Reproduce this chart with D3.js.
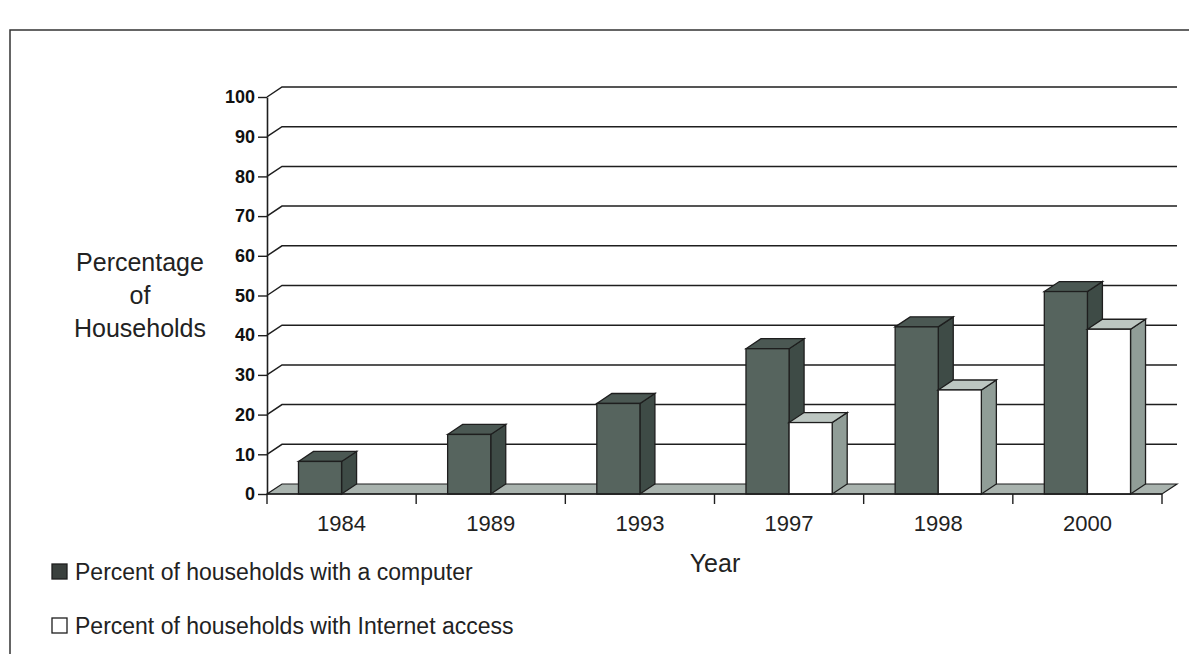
<!DOCTYPE html>
<html>
<head>
<meta charset="utf-8">
<script src="https://cdn.jsdelivr.net/npm/d3@7"></script>
<style>
  html, body { margin: 0; padding: 0; background: #fff; }
  svg { display: block; font-family: Arial, "Liberation Sans", sans-serif; }
</style>
</head>
<body>
<svg id="chart" width="1189" height="654"></svg>
<script>
// values (census home computer / internet use)
const years = ['1984', '1989', '1993', '1997', '1998', '2000'];
const computerPct = [8.2, 15.0, 22.8, 36.6, 42.1, 51.0];
const internetPct = [0, 0, 0, 18.0, 26.2, 41.5];
const yTicks = [0, 10, 20, 30, 40, 50, 60, 70, 80, 90, 100];
const seriesKeys = ['computer', 'internet'];
const legendLabels = ['Percent of households with a computer', 'Percent of households with Internet access'];
const yLabelLines = ['Percentage', 'of', 'Households'];
const xTitle = 'Year';

const width = 1189, height = 654;
const plotLeft = 267, plotRight = 1162, plotTop = 97, plotBottom = 494;
const depthX = 15, depthY = -10; // 3D depth offset of the wall / floor

const svg = d3.select('#chart');
const ink = '#1e1e1e';

// outer frame (only top and left edges are visible in the scan)
svg.append('path')
  .attr('d', `M10,${height} L10,30 L${width},30`)
  .attr('fill', 'none')
  .attr('stroke', '#333')
  .attr('stroke-width', 1.5);

const x = d3.scaleBand()
  .domain(years)
  .range([plotLeft, plotRight]);

const xs = d3.scaleBand()
  .domain(seriesKeys)
  .range([0, x.bandwidth()])
  .paddingOuter(0.73);

const y = d3.scaleLinear()
  .domain([0, 100])
  .range([plotBottom, plotTop]);

// back wall gridlines, with the diagonal from the front axis
svg.append('g')
  .selectAll('path')
  .data(yTicks.filter(d => d > 0))
  .join('path')
    .attr('d', d => `M${plotLeft},${y(d)} L${plotLeft + depthX},${y(d) + depthY} L${plotRight + depthX},${y(d) + depthY}`)
    .attr('fill', 'none')
    .attr('stroke', ink)
    .attr('stroke-width', 1.5);

// floor
svg.append('path')
  .attr('d', `M${plotLeft},${y(0)} L${plotRight},${y(0)} L${plotRight + depthX},${y(0) + depthY} L${plotLeft + depthX},${y(0) + depthY} Z`)
  .attr('fill', '#a9b3ae')
  .attr('stroke', ink)
  .attr('stroke-width', 1.2);

// bars
const faces = {
  computer: { front: '#56645e', top: '#4b5853', side: '#3e4b46' },
  internet: { front: '#ffffff', top: '#bcc6c1', side: '#909d97' }
};

const barData = [];
years.forEach((yr, i) => {
  barData.push({ year: yr, key: 'computer', value: computerPct[i] });
  barData.push({ year: yr, key: 'internet', value: internetPct[i] });
});

const bars = svg.append('g')
  .selectAll('g')
  .data(barData.filter(d => d.value > 0))
  .join('g');

bars.each(function (d) {
  const g = d3.select(this);
  const x0 = x(d.year) + xs(d.key);
  const x1 = x0 + xs.bandwidth();
  const yt = y(d.value), yb = y(0);
  const c = faces[d.key];
  g.append('path')
    .attr('d', `M${x1},${yb} L${x1 + depthX},${yb + depthY} L${x1 + depthX},${yt + depthY} L${x1},${yt} Z`)
    .attr('fill', c.side).attr('stroke', ink).attr('stroke-width', 1.3);
  g.append('path')
    .attr('d', `M${x0},${yt} L${x0 + depthX},${yt + depthY} L${x1 + depthX},${yt + depthY} L${x1},${yt} Z`)
    .attr('fill', c.top).attr('stroke', ink).attr('stroke-width', 1.3);
  g.append('rect')
    .attr('x', x0).attr('y', yt)
    .attr('width', xs.bandwidth()).attr('height', yb - yt)
    .attr('fill', c.front).attr('stroke', ink).attr('stroke-width', 1.3);
});

// y axis
svg.append('g')
  .attr('transform', `translate(${plotLeft},0)`)
  .call(d3.axisLeft(y).tickValues(yTicks).tickSize(9).tickSizeOuter(0).tickPadding(3))
  .call(g => g.select('.domain').attr('stroke', ink).attr('stroke-width', 1.6))
  .call(g => g.selectAll('.tick line').attr('stroke', ink).attr('stroke-width', 1.4))
  .call(g => g.selectAll('.tick text')
    .attr('fill', '#111')
    .attr('font-size', 18)
    .attr('font-weight', 'bold')
    .attr('font-family', 'Arial, "Liberation Sans", sans-serif'));

// x axis: ticks sit on category boundaries
svg.append('g')
  .attr('transform', `translate(0,${y(0)})`)
  .call(d3.axisBottom(x).tickSize(0).tickPadding(21))
  .call(g => g.select('.domain').remove())
  .call(g => g.selectAll('.tick text')
    .attr('fill', '#222')
    .attr('font-size', 22)
    .attr('font-family', 'Arial, "Liberation Sans", sans-serif'));

svg.append('line')
  .attr('x1', plotLeft).attr('x2', plotRight)
  .attr('y1', y(0)).attr('y2', y(0))
  .attr('stroke', ink).attr('stroke-width', 1.6);

svg.append('g')
  .selectAll('line')
  .data(years.map(d => x(d)).concat([plotRight]))
  .join('line')
    .attr('x1', d => d).attr('x2', d => d)
    .attr('y1', y(0)).attr('y2', y(0) + 10)
    .attr('stroke', ink).attr('stroke-width', 1.4);

// axis titles
svg.append('text')
  .attr('x', 140)
  .attr('text-anchor', 'middle')
  .attr('font-size', 25)
  .attr('fill', '#222')
  .selectAll('tspan')
  .data(yLabelLines)
  .join('tspan')
    .attr('x', 140)
    .attr('y', (d, i) => 271 + i * 33)
    .text(d => d);

svg.append('text')
  .attr('x', 715)
  .attr('y', 572)
  .attr('text-anchor', 'middle')
  .attr('font-size', 25)
  .attr('fill', '#222')
  .text(xTitle);

// legend
const legend = svg.append('g')
  .selectAll('g')
  .data(seriesKeys)
  .join('g')
    .attr('transform', (d, i) => `translate(52,${564 + i * 54})`);

legend.append('rect')
  .attr('width', 15).attr('height', 15)
  .attr('fill', d => d === 'computer' ? '#3a403d' : '#fff')
  .attr('stroke', ink).attr('stroke-width', 1.3);

legend.append('text')
  .attr('x', 23)
  .attr('y', 16)
  .attr('font-size', 23)
  .attr('fill', '#222')
  .text((d, i) => legendLabels[i]);
</script>
</body>
</html>
